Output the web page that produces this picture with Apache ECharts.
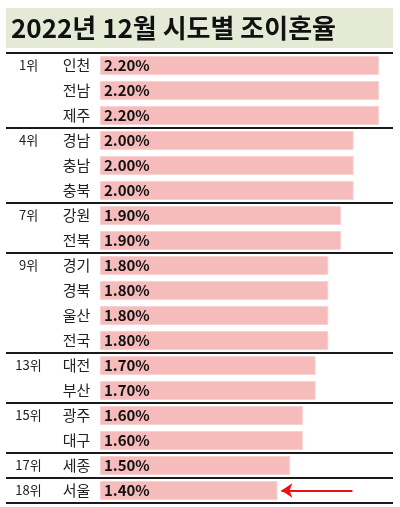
<!DOCTYPE html>
<html lang="ko">
<head>
   <meta charset="UTF-8">
   <script src="https://cdn.jsdelivr.net/npm/echarts@6/dist/echarts.min.js"></script>
   <title>2022년 12월 시도별 조이혼율</title>
   <style>
      html, body { margin: 0; padding: 0; background: #fff; }
      #container { width: 400px; height: 507px; }
   </style>
</head>
<body>
   <div id="container"></div>
   <script>
      var regions = ['인천', '전남', '제주', '경남', '충남', '충북', '강원', '전북', '경기', '경북', '울산', '전국', '대전', '부산', '광주', '대구', '세종', '서울'];
      var rates = [2.2, 2.2, 2.2, 2.0, 2.0, 2.0, 1.9, 1.9, 1.8, 1.8, 1.8, 1.8, 1.7, 1.7, 1.6, 1.6, 1.5, 1.4];
      var ranks = ['1위', '', '', '4위', '', '', '7위', '', '9위', '', '', '', '13위', '', '15위', '', '17위', '18위'];

      var font = "'Noto Sans CJK KR', sans-serif";
      var myChart = echarts.init(document.getElementById('container'));

      var option = {
         animation: false,
         graphic: [
            // 제목 배경
            { type: 'rect', left: 6, top: 8, shape: { width: 387, height: 40 }, style: { fill: '#E4EAD5' }, z: -1 }
         ],
         title: {
            text: '2022년 12월 시도별 조이혼율',
            left: 6,
            top: 10,
            textStyle: { fontFamily: font, fontSize: 26, fontWeight: 'bold', color: '#111' }
         },
         grid: { left: 6, right: 7, top: 53, bottom: 4 },
         xAxis: {
            type: 'value',
            min: -0.74,
            max: 2.31,
            show: false
         },
         yAxis: {
            type: 'category',
            inverse: true,
            data: regions,
            axisLine: { show: false },
            axisTick: { show: false },
            axisLabel: {
               inside: true,
               margin: 0,
               interval: 0,
               formatter: function (name, i) {
                  return '{r|' + ranks[i] + '}{n|' + name + '}';
               },
               rich: {
                  r: { width: 45, align: 'center', fontFamily: font, fontSize: 13, color: '#222' },
                  n: { width: 51, align: 'center', fontFamily: font, fontSize: 15, color: '#222' }
               }
            },
            splitLine: {
               show: true,
               interval: function (i) { return ranks[i] !== ''; },
               lineStyle: { color: '#1a1a1a', width: 2 }
            }
         },
         series: [{
            type: 'bar',
            data: rates,
            barWidth: 19,
            itemStyle: { color: '#F6BBBB', borderColor: '#F8D2D2', borderWidth: 1 },
            label: {
               show: true,
               position: 'insideLeft',
               distance: 4,
               fontFamily: font,
               fontSize: 15,
               fontWeight: 'bold',
               color: '#111',
               formatter: function (p) { return p.value.toFixed(2) + '%'; }
            },
            markLine: {
               silent: true,
               symbol: ['none', 'arrow'],
               symbolSize: 11,
               label: { show: false },
               lineStyle: { color: '#EE1111', width: 2, type: 'solid' },
               data: [[{ coord: [1.99, '서울'] }, { coord: [1.43, '서울'] }]]
            }
         }]
      };

      myChart.setOption(option);
   </script>
</body>
</html>
